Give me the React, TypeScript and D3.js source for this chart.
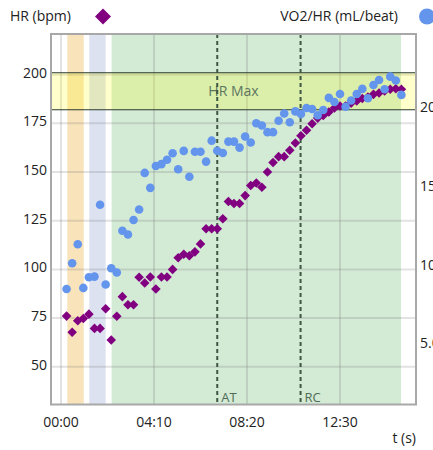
import { useRef, useEffect } from 'react'
import * as d3 from 'd3'

// sample times (s)
const times = [
  15, 30, 45, 60, 75, 90, 105, 120, 135, 150, 165, 180, 195, 210, 225, 240,
  255, 270, 285, 300, 315, 330, 345, 360, 375, 390, 405, 420, 435, 450, 465,
  480, 495, 510, 525, 540, 555, 570, 585, 600, 615, 630, 645, 660, 675, 690,
  705, 720, 735, 750, 765, 780, 795, 810, 825, 840, 855, 870, 885, 900, 915,
]

// HR (bpm)
const heartRate = [
  76.0, 67.7, 73.6, 74.8, 77.0, 69.7, 69.7, 79.8, 63.7, 75.9, 86.0, 81.8,
  81.8, 96.0, 93.0, 96.1, 89.9, 96.1, 96.1, 100.0, 106.0, 107.8, 107.0, 109.0,
  113.1, 120.9, 120.9, 120.9, 126.0, 134.9, 133.8, 133.8, 137.9, 143.1, 144.4,
  142.2, 150.0, 154.9, 157.9, 157.9, 161.2, 164.9, 168.6, 171.5, 174.8, 177.7,
  179.1, 180.8, 182.9, 183.9, 183.9, 185.4, 186.5, 187.8, 188.5, 189.9, 190.6,
  191.6, 192.5, 192.8, 192.5,
]

// VO2/HR (mL/beat)
const o2Pulse = [
  8.46, 10.1, 11.31, 8.53, 9.21, 9.25, 13.82, 8.75, 9.78, 9.51, 12.16, 11.93,
  12.85, 13.51, 15.84, 14.89, 16.28, 16.4, 16.68, 17.09, 16.07, 17.24, 15.6,
  17.19, 17.19, 16.56, 17.89, 17.25, 17.11, 17.83, 17.83, 17.45, 18.15, 17.77,
  19.0, 18.85, 18.43, 18.43, 19.16, 19.62, 19.06, 19.75, 19.58, 19.97, 19.9,
  19.51, 19.84, 20.61, 20.35, 20.86, 20.05, 20.44, 20.86, 21.18, 20.59, 21.43,
  21.75, 21.16, 21.96, 21.71, 20.8,
]

const hrTicks = [50, 75, 100, 125, 150, 175, 200]
const o2Ticks = [5, 10, 15, 20]
const o2TickLabels = ['5.0', '10', '15', '20']
const timeTicks = [0, 250, 500, 750]
const timeTickLabels = ['00:00', '04:10', '08:20', '12:30']

// test phases: start / end (s)
const phaseStart = [17, 76, 136]
const phaseEnd = [61, 120, 914]
const phaseColors = ['#f8e3ba', '#dde2f0', '#d3ead5']

const hrMaxRange = [182, 201]
const thresholdLabels = ['AT', 'RC']
const thresholdTimes = [420, 644]

const font = '"Open Sans", sans-serif'

export default function App() {
  const ref = useRef<SVGSVGElement>(null)

  useEffect(() => {
    const svg = d3.select(ref.current as SVGSVGElement)
    svg.selectAll('*').remove()

    const left = 51
    const right = 416
    const top = 34
    const bottom = 404.5

    const x = d3.scaleLinear().domain([-26.9, 954.3]).range([left, right])
    const yL = d3.scaleLinear().domain([30.6, 220.9]).range([bottom, top])
    const yR = d3.scaleLinear().domain([1.12, 24.67]).range([bottom, top])

    const g = svg.append('g')

    // phase bands
    g.selectAll('rect.phase')
      .data(phaseStart)
      .enter()
      .append('rect')
      .attr('class', 'phase')
      .attr('x', (d) => x(d))
      .attr('y', top)
      .attr('width', (d, i) => x(phaseEnd[i]) - x(d))
      .attr('height', bottom - top)
      .attr('fill', (_, i) => phaseColors[i])

    // grid
    g.selectAll('line.hgrid')
      .data(hrTicks)
      .enter()
      .append('line')
      .attr('x1', left)
      .attr('x2', right)
      .attr('y1', (d) => yL(d))
      .attr('y2', (d) => yL(d))
      .attr('stroke', 'rgba(110,110,110,0.2)')
      .attr('stroke-width', 2)

    g.selectAll('line.vgrid')
      .data(timeTicks)
      .enter()
      .append('line')
      .attr('x1', (d) => x(d))
      .attr('x2', (d) => x(d))
      .attr('y1', top)
      .attr('y2', bottom)
      .attr('stroke', 'rgba(110,110,110,0.2)')
      .attr('stroke-width', 2)

    // HR max band
    g.append('rect')
      .attr('x', left)
      .attr('width', right - left)
      .attr('y', yL(hrMaxRange[1]))
      .attr('height', yL(hrMaxRange[0]) - yL(hrMaxRange[1]))
      .attr('fill', 'rgba(255,255,0,0.2)')

    g.selectAll('line.hrmax')
      .data(hrMaxRange)
      .enter()
      .append('line')
      .attr('x1', left)
      .attr('x2', right)
      .attr('y1', (d) => yL(d))
      .attr('y2', (d) => yL(d))
      .attr('stroke', '#2b3a2e')
      .attr('stroke-width', 1.2)

    g.append('text')
      .attr('x', (left + right) / 2)
      .attr('y', (yL(hrMaxRange[0]) + yL(hrMaxRange[1])) / 2 + 5)
      .attr('text-anchor', 'middle')
      .attr('font-family', font)
      .attr('font-size', 14)
      .attr('fill', '#5c7660')
      .text('HR Max')

    // AT / RC
    g.selectAll('line.thr')
      .data(thresholdTimes)
      .enter()
      .append('line')
      .attr('x1', (d) => x(d))
      .attr('x2', (d) => x(d))
      .attr('y1', top)
      .attr('y2', bottom)
      .attr('stroke', '#3e5744')
      .attr('stroke-width', 2)
      .attr('stroke-dasharray', '4,3')

    g.selectAll('text.thr')
      .data(thresholdTimes)
      .enter()
      .append('text')
      .attr('x', (d) => x(d) + 4)
      .attr('y', bottom - 3)
      .attr('font-family', font)
      .attr('font-size', 13)
      .attr('fill', '#4f6b55')
      .text((_, i) => thresholdLabels[i])

    // HR diamonds
    const diamond = d3.symbol(d3.symbolSquare, 46)
    g.selectAll('path.hr')
      .data(heartRate)
      .enter()
      .append('path')
      .attr('d', diamond)
      .attr('transform', (d, i) => `translate(${x(times[i])},${yL(d)}) rotate(45)`)
      .attr('fill', '#800080')

    // VO2/HR circles
    g.selectAll('circle.o2')
      .data(o2Pulse)
      .enter()
      .append('circle')
      .attr('cx', (_, i) => x(times[i]))
      .attr('cy', (d) => yR(d))
      .attr('r', 4.3)
      .attr('fill', '#6495ed')

    // frame
    g.append('rect')
      .attr('x', left)
      .attr('y', top)
      .attr('width', right - left)
      .attr('height', bottom - top)
      .attr('fill', 'none')
      .attr('stroke', '#a8a8a8')
      .attr('stroke-width', 2)

    // tick labels
    g.selectAll('text.yl')
      .data(hrTicks)
      .enter()
      .append('text')
      .attr('x', left - 4)
      .attr('y', (d) => yL(d) + 3)
      .attr('text-anchor', 'end')
      .attr('font-family', font)
      .attr('font-size', 14)
      .attr('fill', '#222')
      .text((d) => d)

    g.selectAll('text.yr')
      .data(o2Ticks)
      .enter()
      .append('text')
      .attr('x', right + 4)
      .attr('y', (d) => yR(d) + 5)
      .attr('font-family', font)
      .attr('font-size', 14)
      .attr('fill', '#222')
      .text((_, i) => o2TickLabels[i])

    g.selectAll('text.xt')
      .data(timeTicks)
      .enter()
      .append('text')
      .attr('x', (d) => x(d))
      .attr('y', 427)
      .attr('text-anchor', 'middle')
      .attr('font-family', font)
      .attr('font-size', 14)
      .attr('fill', '#222')
      .text((_, i) => timeTickLabels[i])

    g.append('text')
      .attr('x', right)
      .attr('y', 443)
      .attr('text-anchor', 'end')
      .attr('font-family', font)
      .attr('font-size', 14)
      .attr('fill', '#222')
      .text('t (s)')

    // legend
    g.append('text')
      .attr('x', 10)
      .attr('y', 21)
      .attr('font-family', font)
      .attr('font-size', 14)
      .attr('fill', '#222')
      .text('HR (bpm)')
    g.append('path')
      .attr('d', d3.symbol(d3.symbolSquare, 128))
      .attr('transform', 'translate(103,16.5) rotate(45)')
      .attr('fill', '#800080')

    g.append('text')
      .attr('x', 398)
      .attr('y', 21)
      .attr('text-anchor', 'end')
      .attr('font-family', font)
      .attr('font-size', 14)
      .attr('fill', '#222')
      .text('VO2/HR (mL/beat)')
    g.append('circle')
      .attr('cx', 427)
      .attr('cy', 16.5)
      .attr('r', 8)
      .attr('fill', '#6495ed')
  }, [])

  return (
    <svg
      ref={ref}
      width={433}
      height={450}
      style={{ position: 'absolute', left: 0, top: 0, background: '#fff' }}
    />
  )
}
